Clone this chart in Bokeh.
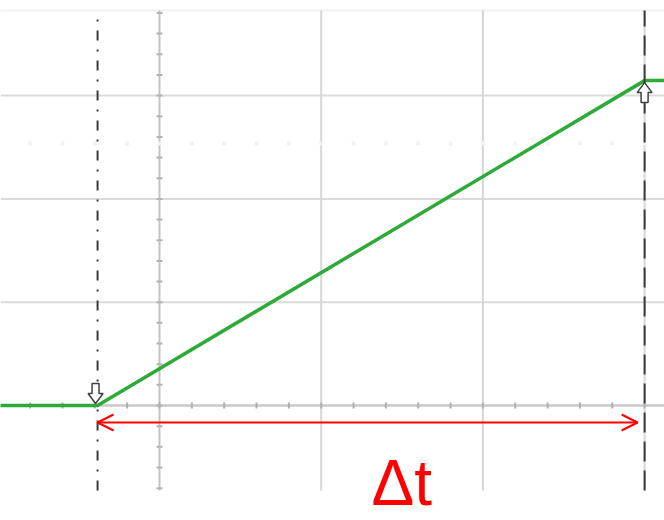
import numpy as np
from bokeh.plotting import figure
from bokeh.models import Range1d, Arrow, OpenHead
from bokeh.core.properties import value
from bokeh.embed import file_html
from bokeh.resources import INLINE

# Ramp signal, in screen divisions (time div, volt div)
time = [-1.0, -0.383, 3.0, 3.2]
volts = [0.0, 0.0, 3.145, 3.145]

# Cursor positions (time div)
cursor_start = -0.383
cursor_end = 3.0

# Graticule
grid_x = [1, 2, 3]
grid_y = [1, 2, 3]
center_x = 0
center_y = 0
minor_step = 0.2

label = "Δt"

W, H = 664, 520
PX_X = 161.7   # pixels per time division
PX_Y = 103.3   # pixels per volt division
ORIGIN_PX = (159, 405)

x0 = -ORIGIN_PX[0] / PX_X
x1 = (W - ORIGIN_PX[0]) / PX_X
y1 = ORIGIN_PX[1] / PX_Y
y0 = -(H - ORIGIN_PX[1]) / PX_Y

p = figure(width=W, height=H, output_backend="svg", toolbar_location=None,
           x_range=Range1d(x0, x1), y_range=Range1d(y0, y1),
           min_border=0, background_fill_color="white", border_fill_color="white")
p.axis.visible = False
p.grid.visible = False
p.outline_line_color = None

gy_top = (ORIGIN_PX[1] - 10) / PX_Y
gy_bot = -(490 - ORIGIN_PX[1]) / PX_Y

# faint top edge
p.segment(x0=[x0], y0=[gy_top], x1=[x1], y1=[gy_top], line_color="#f2f2f2", line_width=2)

# horizontal graticule lines
p.segment(x0=[x0] * len(grid_y), y0=grid_y, x1=[x1] * len(grid_y), y1=grid_y,
          line_color="#dadada", line_width=2)
# vertical graticule lines
p.segment(x0=grid_x, y0=[gy_bot] * len(grid_x), x1=grid_x, y1=[gy_top] * len(grid_x),
          line_color="#d6d6d6", line_width=2)

# center axes with minor ticks
p.segment(x0=[x0], y0=[center_y], x1=[x1], y1=[center_y], line_color="#c9c9c9", line_width=2.5)
p.segment(x0=[center_x], y0=[gy_bot], x1=[center_x], y1=[gy_top], line_color="#c4c4c4", line_width=2)

tx = np.arange(np.ceil(x0 / minor_step), np.floor(x1 / minor_step) + 1) * minor_step
ty = np.arange(np.ceil(gy_bot / minor_step), np.floor(gy_top / minor_step) + 1) * minor_step
tick_dx = 3 / PX_X
tick_dy = 3 / PX_Y
p.segment(x0=tx, y0=center_y - tick_dy, x1=tx, y1=center_y + tick_dy, line_color="#b0b0b0", line_width=2)
p.segment(x0=center_x - tick_dx, y0=ty, x1=center_x + tick_dx, y1=ty, line_color="#b4b4b4", line_width=2)

# faint dotted row
dot_y = (ORIGIN_PX[1] - 143) / PX_Y
p.scatter(tx, [dot_y] * len(tx), size=3, color="#f1f1f1", marker="square")

# trace
p.line(time, volts, line_color="#2eaa3a", line_width=3.5)

# cursors
p.segment(x0=[cursor_start], y0=[gy_bot], x1=[cursor_start], y1=[gy_top],
          line_color="#3a3a3a", line_width=2, line_dash="10 9 2 9")
p.segment(x0=[cursor_end], y0=[gy_bot], x1=[cursor_end], y1=[gy_top],
          line_color="#3a3a3a", line_width=2, line_dash="20 9")


# hollow arrow markers on the cursors
def arrow_shape(cx, cy, direction):
    # outline in pixels: stem half-width 3.5, head half-width 7.5, stem 10, head 10
    sx = [-3.5, 3.5, 3.5, 7.5, 0, -7.5, -3.5]
    sy = [20, 20, 10, 10, 0, 10, 10]
    xs = [cx + v / PX_X for v in sx]
    ys = [cy + direction * v / PX_Y for v in sy]
    return xs, ys

ax1, ay1 = arrow_shape(cursor_start - 2 / PX_X, 0.02, 1)
ax2, ay2 = arrow_shape(cursor_end, volts[-1] - 2 / PX_Y, -1)
p.patches([ax1, ax2], [ay1, ay2], fill_color="white", line_color="#404040", line_width=1.5)

# Δt measurement arrow
arrow_y = -(422 - ORIGIN_PX[1]) / PX_Y
p.add_layout(Arrow(x_start=cursor_start, y_start=arrow_y, x_end=cursor_end - 7 / PX_X, y_end=arrow_y,
                   line_color="red", line_width=2,
                   start=OpenHead(size=16, line_color="red", line_width=2),
                   end=OpenHead(size=16, line_color="red", line_width=2)))

label_x = (cursor_start + cursor_end) / 2 + 0.19
label_y = -(482 - ORIGIN_PX[1]) / PX_Y
p.text(x=[label_x], y=[label_y], text=[label], text_color="red",
       text_font=value("Liberation Sans"), text_font_size="64px",
       text_align="center", text_baseline="middle")

open("out.html", "w").write(file_html(p, INLINE))
